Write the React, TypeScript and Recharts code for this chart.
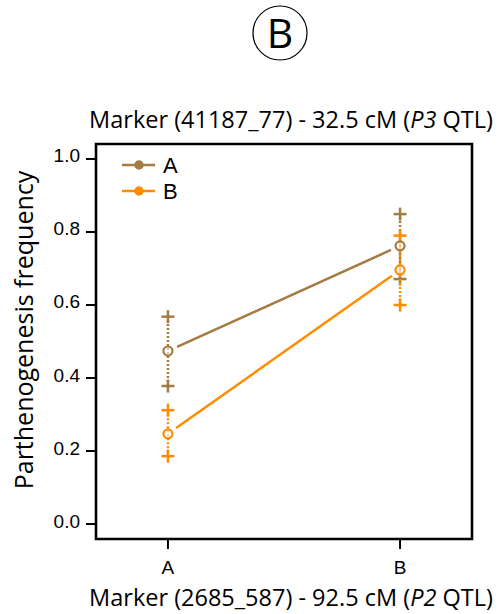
import React from "react";
import {
  ComposedChart,
  Scatter,
  XAxis,
  YAxis,
  ReferenceArea,
  Legend,
} from "recharts";

// categories of the x marker and their numeric positions
const groups = ["A", "B"];
const xPos = [1, 2];

// series A (brown)
const meanA = [0.474, 0.762];
const lowA = [0.378, 0.671];
const highA = [0.568, 0.849];

// series B (orange)
const meanB = [0.247, 0.696];
const lowB = [0.186, 0.6];
const highB = [0.312, 0.79];

const yTicks = [0, 0.2, 0.4, 0.6, 0.8, 1.0];

const BROWN = "#A47B43";
const ORANGE = "#FF8C00";
const LABEL_FONT = "'Open Sans', sans-serif";
const TICK_FONT = "'Liberation Sans', Arial, sans-serif";

const meanData = (m: number[]) => xPos.map((x, i) => ({ x, y: m[i] }));
const barData = (lo: number[], hi: number[], i: number) => [
  { x: xPos[i], y: lo[i] },
  { x: xPos[i], y: hi[i] },
];

// "+" end markers of the error bars
const Plus = (props: any) => {
  const { cx, cy, fill } = props;
  const s = 6.5;
  return (
    <g stroke={fill} strokeWidth={2.5}>
      <line x1={cx - s} y1={cy} x2={cx + s} y2={cy} />
      <line x1={cx} y1={cy - s} x2={cx} y2={cy + s} />
    </g>
  );
};

const OpenDot = (props: any) => {
  const { cx, cy, fill } = props;
  return <circle cx={cx} cy={cy} r={4.5} fill="#fff" fillOpacity={0.6} stroke={fill} strokeWidth={2.2} />;
};

// R type="b": segments stop short of the points
const gappedLine = (color: string) => (props: any) => {
  const pts = props.points || [];
  const gap = 10;
  const segs = [];
  for (let i = 0; i < pts.length - 1; i++) {
    const a = pts[i];
    const b = pts[i + 1];
    const dx = b.x - a.x;
    const dy = b.y - a.y;
    const len = Math.sqrt(dx * dx + dy * dy);
    const ux = dx / len;
    const uy = dy / len;
    segs.push(
      <line
        key={i}
        x1={a.x + ux * gap}
        y1={a.y + uy * gap}
        x2={b.x - ux * gap}
        y2={b.y - uy * gap}
        stroke={color}
        strokeWidth={2.5}
      />
    );
  }
  return <g>{segs}</g>;
};

const XTick = (props: any) => {
  const { x, y, payload } = props;
  return (
    <text x={x} y={y + 25} textAnchor="middle" fontFamily={TICK_FONT} fontSize={19} fill="#000">
      {groups[xPos.indexOf(payload.value)]}
    </text>
  );
};

const YTick = (props: any) => {
  const { x, y, payload } = props;
  return (
    <text x={x} y={y + 3.5} textAnchor="end" fontFamily={TICK_FONT} fontSize={19} fill="#000">
      {payload.value.toFixed(1)}
    </text>
  );
};

const legendItems = [
  { name: "A", color: BROWN },
  { name: "B", color: ORANGE },
];

const LegendBox = () => (
  <svg width={80} height={56}>
    {legendItems.map((it, i) => (
      <g key={it.name} transform={`translate(0, ${12 + i * 26})`}>
        <line x1={6} x2={39} y1={0} y2={0} stroke={it.color} strokeWidth={2.5} />
        <circle cx={23} cy={0} r={4} fill={it.color} stroke={it.color} strokeWidth={1.5} />
        <text x={47} y={8} fontFamily={TICK_FONT} fontSize={22} fill="#000">
          {it.name}
        </text>
      </g>
    ))}
  </svg>
);

const TitleLabel = () => (
  <g>
    <circle cx={280} cy={33} r={27} fill="none" stroke="#000" strokeWidth={1.2} />
    <text x={280} y={48} textAnchor="middle" fontFamily={LABEL_FONT} fontSize={41} fill="#000">
      B
    </text>
    <text x={291} y={128} textAnchor="middle" fontFamily={LABEL_FONT} fontSize={23.5} fill="#000">
      Marker (41187_77) - 32.5 cM (<tspan fontStyle="italic">P3</tspan> QTL)
    </text>
  </g>
);

const XLabel = () => (
  <text x={291} y={606} textAnchor="middle" fontFamily={LABEL_FONT} fontSize={23.5} fill="#000">
    Marker (2685_587) - 92.5 cM (<tspan fontStyle="italic">P2</tspan> QTL)
  </text>
);

const YLabel = () => (
  <text
    x={33}
    y={330}
    transform="rotate(-90 33 330)"
    textAnchor="middle"
    fontFamily={LABEL_FONT}
    fontSize={25}
    fill="#000"
  >
    Parthenogenesis frequency
  </text>
);

export default function App() {
  const xDomain = [0.69, 2.31];
  const yDomain = [-0.041, 1.041];
  return (
    <div style={{ position: "absolute", left: 0, top: 0, width: 502, height: 614, background: "#fff" }}>
      <ComposedChart width={502} height={614} margin={{ top: 104, right: 30, bottom: 0, left: 36 }}>
        <XAxis
          xAxisId="t"
          orientation="top"
          type="number"
          dataKey="x"
          domain={xDomain}
          height={40}
          tick={false}
          axisLine={false}
          tickLine={false}
          label={<TitleLabel />}
        />
        <XAxis
          type="number"
          dataKey="x"
          domain={xDomain}
          allowDataOverflow
          ticks={xPos}
          height={75}
          axisLine={false}
          tickSize={10}
          tickMargin={0}
          tickLine={{ stroke: "#000", strokeWidth: 2 }}
          tick={<XTick />}
          label={<XLabel />}
        />
        <YAxis
          type="number"
          dataKey="y"
          domain={yDomain}
          allowDataOverflow
          ticks={yTicks}
          width={60}
          axisLine={false}
          tickSize={10}
          tickMargin={6}
          tickLine={{ stroke: "#000", strokeWidth: 2 }}
          tick={<YTick />}
          label={<YLabel />}
        />
        <ReferenceArea
          x1={xDomain[0]}
          x2={xDomain[1]}
          y1={yDomain[0]}
          y2={yDomain[1]}
          fill="none"
          stroke="#000"
          strokeWidth={2.6}
          fillOpacity={0}
          strokeOpacity={1}
          ifOverflow="extendDomain"
        />

        {xPos.map((_, i) => (
          <Scatter
            key={"ba" + i}
            data={barData(lowA, highA, i)}
            fill={BROWN}
            shape={<Plus />}
            line={{ strokeDasharray: "2 2", strokeWidth: 2.5, stroke: BROWN }}
            isAnimationActive={false}
          />
        ))}
        {xPos.map((_, i) => (
          <Scatter
            key={"bb" + i}
            data={barData(lowB, highB, i)}
            fill={ORANGE}
            shape={<Plus />}
            line={{ strokeDasharray: "2 2", strokeWidth: 2.5, stroke: ORANGE }}
            isAnimationActive={false}
          />
        ))}
        <Scatter
          data={meanData(meanA)}
          fill={BROWN}
          shape={<OpenDot />}
          line={gappedLine(BROWN)}
          isAnimationActive={false}
        />
        <Scatter
          data={meanData(meanB)}
          fill={ORANGE}
          shape={<OpenDot />}
          line={gappedLine(ORANGE)}
          isAnimationActive={false}
        />
        <Legend
          layout="vertical"
          align="center"
          verticalAlign="middle"
          wrapperStyle={{ left: 116, top: 153, width: 80 }}
          content={() => <LegendBox />}
        />
      </ComposedChart>
    </div>
  );
}
